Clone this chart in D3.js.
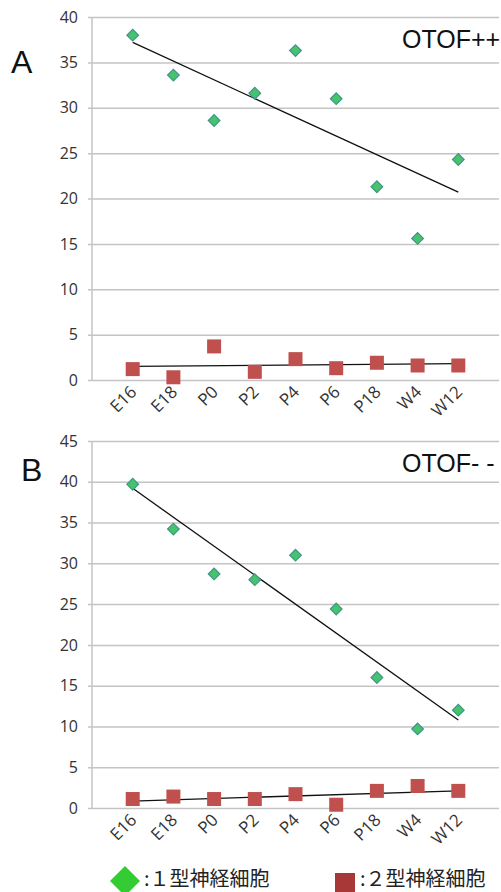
<!DOCTYPE html>
<html lang="ja">
<head>
<meta charset="UTF-8">
<title>OTOF type I / type II neurons</title>
<script src="https://d3js.org/d3.v7.min.js"></script>
<style>
  body { margin: 0; background: #fff; }
  .tick text { font-family: "Open Sans", sans-serif; font-size: 16px; fill: #333; }
  .grid line { stroke: #c4c4c4; stroke-width: 1.5; }
  .panel-label { font-family: "Liberation Sans", Arial, sans-serif; font-size: 32px; fill: #111; }
  .tag { font-family: "Liberation Sans", Arial, sans-serif; font-size: 25px; fill: #111; }
  .legend text { font-family: "Noto Sans CJK JP", sans-serif; font-size: 20px; fill: #222; }
</style>
</head>
<body>
<svg width="501" height="892"></svg>
<script>
// categories (age)
const categories = ["E16", "E18", "P0", "P2", "P4", "P6", "P18", "W4", "W12"];

// panel A: OTOF++
const ticksA = [0, 5, 10, 15, 20, 25, 30, 35, 40];
const type1A = [38.0, 33.6, 28.6, 31.6, 36.3, 31.0, 21.3, 15.6, 24.3];
const type2A = [1.2, 0.3, 3.7, 0.9, 2.3, 1.3, 1.9, 1.6, 1.6];
const trend1A = [37.2, 20.7];   // trend line value at E16 and W12
const trend2A = [1.5, 1.8];

// panel B: OTOF--
const ticksB = [0, 5, 10, 15, 20, 25, 30, 35, 40, 45];
const type1B = [39.7, 34.2, 28.7, 28.0, 31.0, 24.4, 16.0, 9.7, 12.0];
const type2B = [1.1, 1.4, 1.1, 1.1, 1.7, 0.4, 2.1, 2.7, 2.1];
const trend1B = [39.2, 10.8];
const trend2B = [0.85, 2.1];

const legendLabels = [":１型神経細胞", ":２型神経細胞"];

const svg = d3.select("svg");
const green = "#45c46c", greenEdge = "#3f948a", red = "#c0504d";

const x = d3.scaleLinear().domain([0, categories.length + 1]).range([92, 499]);

function panel(o) {
  const y = d3.scaleLinear().domain([0, d3.max(o.ticks)]).range([o.bottom, o.top]);
  const g = svg.append("g");

  // gridlines + y labels
  g.append("g")
    .attr("class", "grid")
    .attr("transform", "translate(88,0)")
    .call(d3.axisLeft(y).tickValues(o.ticks).tickSizeInner(-(499 - 88)).tickSizeOuter(0).tickPadding(10))
    .call(a => a.select(".domain").remove());

  // y axis line
  g.append("line")
    .attr("x1", 92).attr("x2", 92)
    .attr("y1", y(d3.max(o.ticks))).attr("y2", y(0))
    .attr("stroke", "#c4c4c4").attr("stroke-width", 1.5);

  // x labels
  g.selectAll(".xl")
    .data(categories)
    .enter().append("text")
    .attr("class", "xl")
    .attr("transform", (d, i) => `translate(${x(i + 1) + 5},${y(0) + 13}) rotate(-45)`)
    .attr("text-anchor", "end")
    .style("font-family", "'Open Sans', sans-serif")
    .style("font-size", "17px")
    .attr("fill", "#333")
    .text(d => d);

  // trend lines
  [o.trend1, o.trend2].forEach(t => {
    g.append("line")
      .attr("x1", x(1)).attr("y1", y(t[0]))
      .attr("x2", x(categories.length)).attr("y2", y(t[1]))
      .attr("stroke", "#111").attr("stroke-width", 1.3);
  });

  // type 2 squares
  g.selectAll(".sq")
    .data(o.type2)
    .enter().append("rect")
    .attr("class", "sq")
    .attr("x", (d, i) => x(i + 1) - 7)
    .attr("y", d => y(d) - 7)
    .attr("width", 14).attr("height", 14)
    .attr("fill", red);

  // type 1 diamonds
  g.selectAll(".dm")
    .data(o.type1)
    .enter().append("path")
    .attr("class", "dm")
    .attr("d", d3.symbol(d3.symbolSquare, 68))
    .attr("transform", (d, i) => `translate(${x(i + 1)},${y(d)}) rotate(45)`)
    .attr("fill", green)
    .attr("stroke", greenEdge)
    .attr("stroke-width", 1.2);

  svg.append("text").attr("class", "panel-label")
    .attr("x", o.letterX).attr("y", o.letterY).text(o.letter);
  svg.append("text").attr("class", "tag")
    .attr("x", 402).attr("y", o.tagY).text(o.tag);
}

panel({ ticks: ticksA, top: 17, bottom: 380, type1: type1A, type2: type2A,
        trend1: trend1A, trend2: trend2A, letter: "A", letterX: 11, letterY: 73,
        tag: "OTOF++", tagY: 48 });
panel({ ticks: ticksB, top: 441, bottom: 808, type1: type1B, type2: type2B,
        trend1: trend1B, trend2: trend2B, letter: "B", letterX: 21, letterY: 481,
        tag: "OTOF- -", tagY: 472 });

// legend
const legend = svg.append("g").attr("class", "legend");
legend.append("path")
  .attr("d", "M125,866 L140,881 L125,896 L110,881 Z")
  .attr("fill", "#33cc33");
legend.append("text").attr("x", 144).attr("y", 886).text(legendLabels[0]);
legend.append("rect")
  .attr("x", 335).attr("y", 873).attr("width", 20).attr("height", 19)
  .attr("fill", "#a83838");
legend.append("text").attr("x", 360).attr("y", 886).text(legendLabels[1]);
</script>
</body>
</html>
